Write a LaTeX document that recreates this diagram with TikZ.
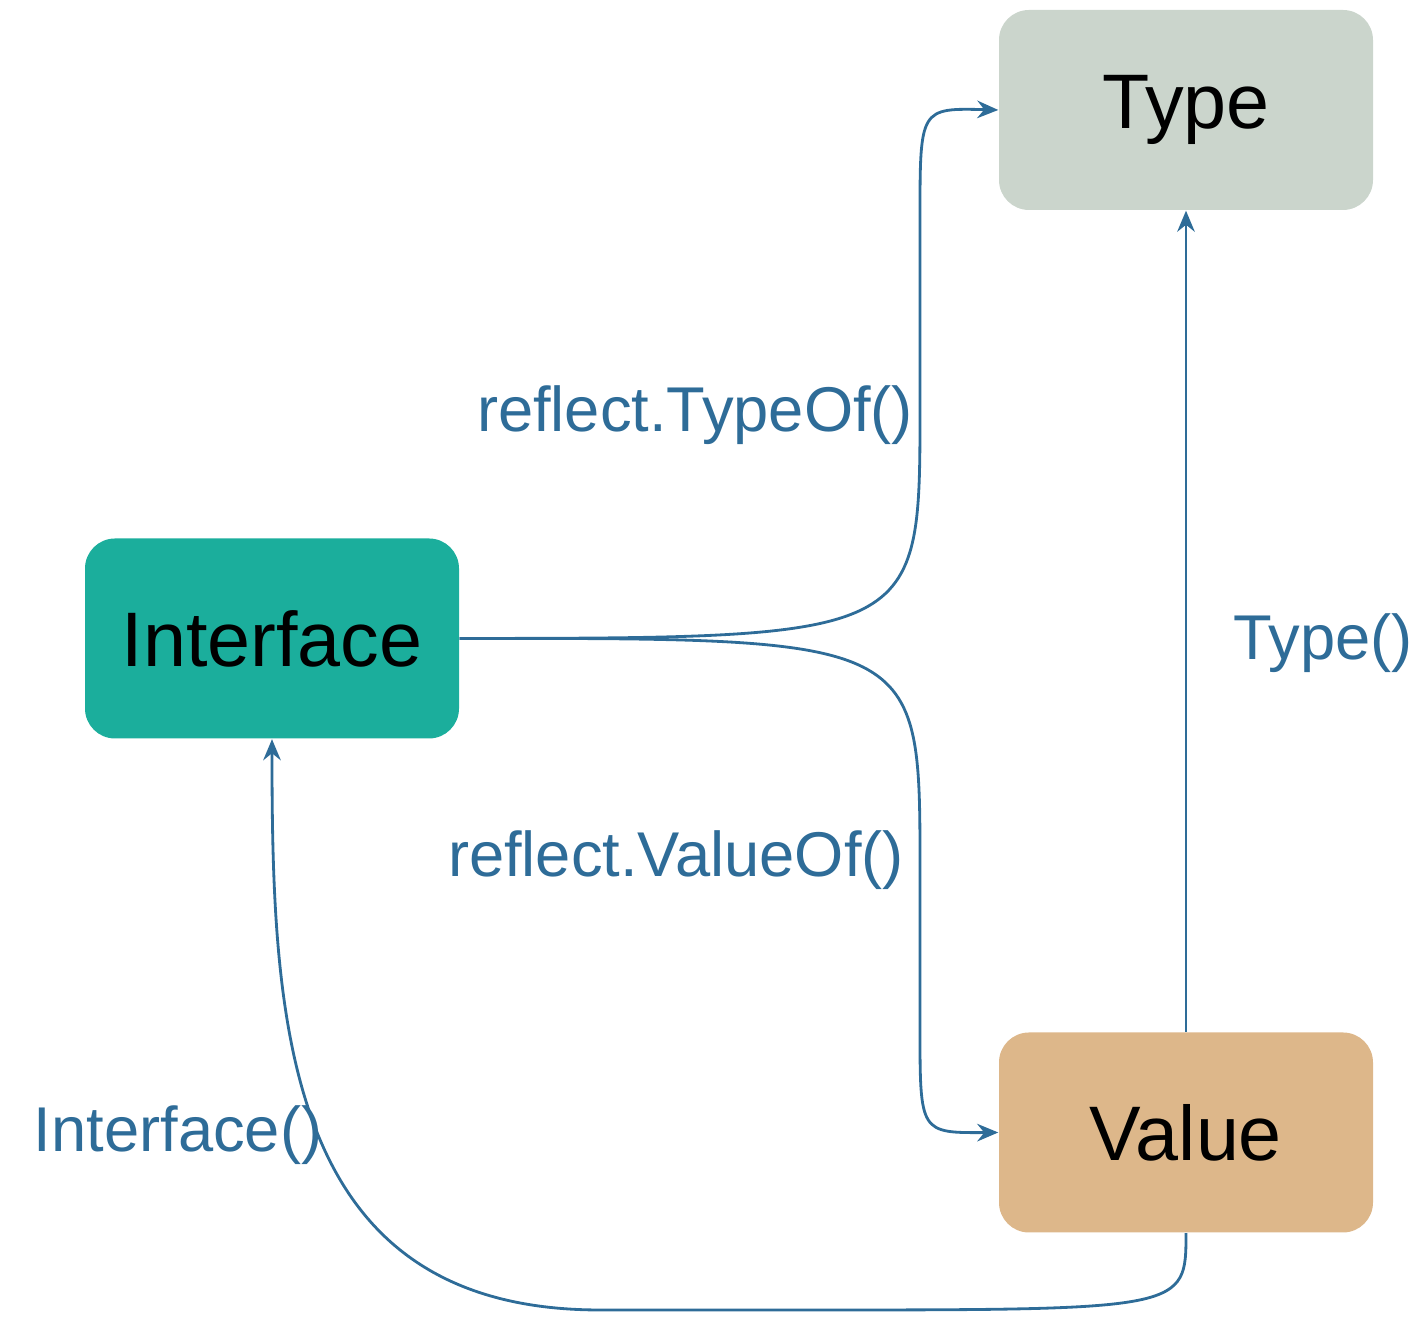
\documentclass[tikz,border=0pt]{standalone}
\usepackage{fontspec}
\setmainfont{Liberation Sans}
\usetikzlibrary{arrows.meta}
\definecolor{typegray}{HTML}{CBD5CC}
\definecolor{ifteal}{HTML}{1BAE9C}
\definecolor{valtan}{HTML}{DDB78A}
\definecolor{linkblue}{HTML}{2E6C98}
\tikzset{
	box/.style={rounded corners=0.3cm, minimum width=3.74cm, minimum height=2cm, inner sep=0pt, font=\fontsize{22}{26}\selectfont},
	link/.style={linkblue, line width=0.8pt, -{Stealth[length=6pt,width=5pt,inset=2pt]}},
	lbl/.style={text=linkblue, font=\fontsize{18}{22}\selectfont}
}
\begin{document}
\begin{tikzpicture}
	\useasboundingbox (0,0) rectangle (14.22,13.28);
	\node[box, fill=typegray] (type) at (11.86,12.18) {Type};
	\node[box, fill=ifteal] (iface) at (2.72,6.895) {Interface};
	\node[box, fill=valtan] (value) at (11.86,1.955) {Value};
	
	% labels
	\node[lbl] (typeof) at (6.95,9.13) {reflect.TypeOf()};
	\node[lbl] (valueof) at (6.76,4.68) {reflect.ValueOf()};
	\node[lbl] (typecall) at (13.23,6.85) {Type()};
	\node[lbl] (ifacecall) at (1.78,1.93) {Interface()};
	
	% connectors
	\draw[link] (iface.east) .. controls (9.2,6.9) .. (9.2,9.2) -- (9.2,11.1) .. controls (9.2,12.2) .. (type.west);
	\draw[link] (iface.east) .. controls (9.2,6.9) .. (9.2,4.6) -- (9.2,3.0) .. controls (9.2,1.95) .. (value.west);
	\draw[link] (value.north) -- (type.south);
	\draw[link] (value.south) .. controls (11.86,0.18) .. (8,0.18) -- (6,0.18) .. controls (2.85,0.18) and (2.72,3) .. (iface.south);
\end{tikzpicture}
\end{document}
